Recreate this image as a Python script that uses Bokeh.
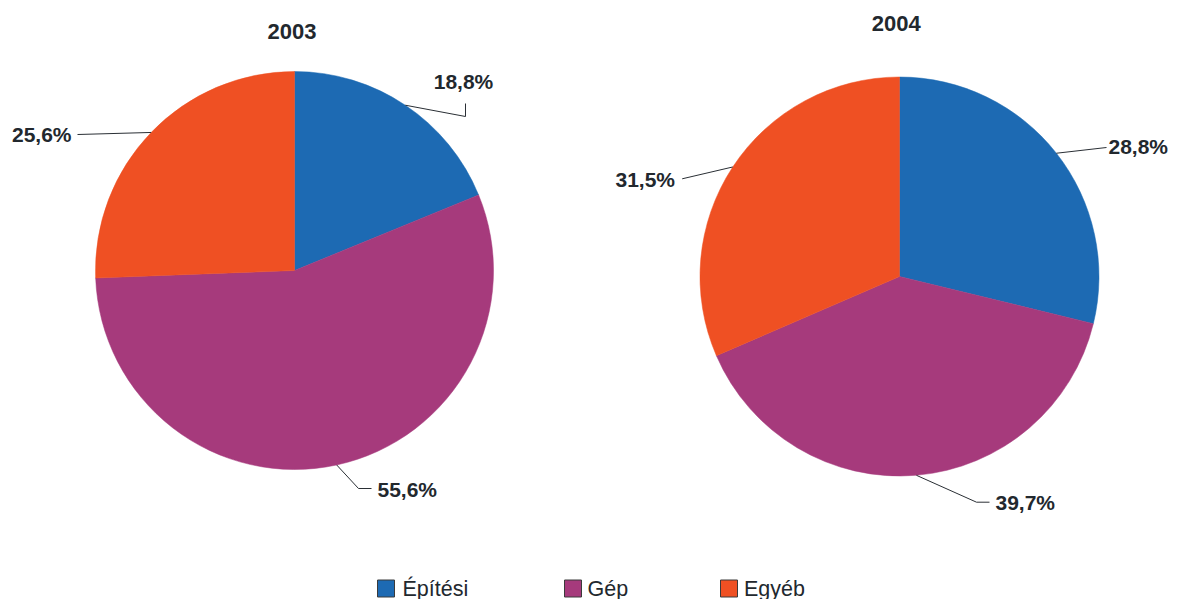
import math
from bokeh.plotting import figure
from bokeh.models import Range1d, ColumnDataSource
from bokeh.core.properties import value
from bokeh.embed import file_html
from bokeh.resources import INLINE

# ---------------- data ----------------
years = ["2003", "2004"]
categories = ["Építési", "Gép", "Egyéb"]
shares_2003 = [18.8, 55.6, 25.6]
shares_2004 = [28.8, 39.7, 31.5]
colors = ["#1d6ab3", "#a63a7c", "#ef5023"]

# ---------------- layout (pixel coordinates from the top-left corner) ----------------
W, H = 1170, 599
X0, Y0 = 0, 0
TEXT = "#22282e"
FONT = "Liberation Sans"

pie_centers = [(294, 270), (899, 276)]
pie_radius = [199, 199.5]
title_pos = [(291.5, 31), (895.7, 23)]
# per pie, per slice: extra leader points after the anchor, text position, alignment
leader_layout = [
    [([(465, 116), (465, 103)], (463, 81), "center"),
     ([(358, 488), (371, 488)], (377, 488.5), "left"),
     ([(77, 134)], (71, 133.5), "right")],
    [([(1106, 147)], (1108, 145.5), "left"),
     ([(976, 501.7), (989, 501.7)], (995, 501.5), "left"),
     ([(681.7, 178.3)], (674.5, 178.5), "right")],
]
legend_square_x = [385.5, 572.5, 728.5]
legend_text_x = [402, 587, 743.5]
legend_y = 588

p = figure(width=W, height=H,
           x_range=Range1d(X0, X0 + W), y_range=Range1d(-(Y0 + H), -Y0),
           output_backend="svg", toolbar_location=None,
           x_axis_type=None, y_axis_type=None,
           min_border=0, outline_line_color=None,
           background_fill_color="white", border_fill_color="white")


def fmt(v):
    return f"{v:.1f}".replace(".", ",") + "%"


for k, shares in enumerate([shares_2003, shares_2004]):
    cx, cy = pie_centers[k]
    r = pie_radius[k]
    total = sum(shares)
    cum = [0.0]
    for v in shares:
        cum.append(cum[-1] + v / total)
    starts = [math.pi / 2 - 2 * math.pi * cum[i] for i in range(len(shares))]
    ends = [math.pi / 2 - 2 * math.pi * cum[i + 1] for i in range(len(shares))]
    src = ColumnDataSource(dict(x=[cx] * len(shares), y=[-cy] * len(shares),
                                start=starts, end=ends, color=colors))
    p.wedge(x="x", y="y", radius=r, start_angle="start", end_angle="end",
            direction="clock", fill_color="color", line_color="color",
            line_width=0.5, source=src)

    xs, ys = [], []
    tx, ty, txt, al = [], [], [], []
    for i, v in enumerate(shares):
        a = 2 * math.pi * (cum[i] + cum[i + 1]) / 2
        ax, ay = cx + r * math.sin(a), cy - r * math.cos(a)
        pts, (lx, ly), align = leader_layout[k][i]
        xs.append([ax] + [q[0] for q in pts])
        ys.append([-ay] + [-q[1] for q in pts])
        tx.append(lx)
        ty.append(-ly)
        txt.append(fmt(v))
        al.append(align)
    p.multi_line(xs=xs, ys=ys, line_color="#2a2f35", line_width=1)
    p.text(x=tx, y=ty, text=txt, text_align=al, text_baseline="middle",
           text_font=value(FONT), text_font_style="bold",
           text_font_size="21px", text_color=TEXT)

    p.text(x=[title_pos[k][0]], y=[-title_pos[k][1]], text=[years[k]],
           text_align="center", text_baseline="middle",
           text_font=value(FONT), text_font_style="bold",
           text_font_size="22px", text_color=TEXT)

# legend
p.rect(x=legend_square_x, y=[-legend_y] * 3, width=17, height=17,
       fill_color=colors, line_color="#3b3b3b", line_width=1)
p.text(x=legend_text_x, y=[-legend_y] * 3, text=categories,
       text_align="left", text_baseline="middle",
       text_font=value(FONT), text_font_size="21.5px", text_color=TEXT)

open("out.html", "w").write(file_html(p, INLINE))
